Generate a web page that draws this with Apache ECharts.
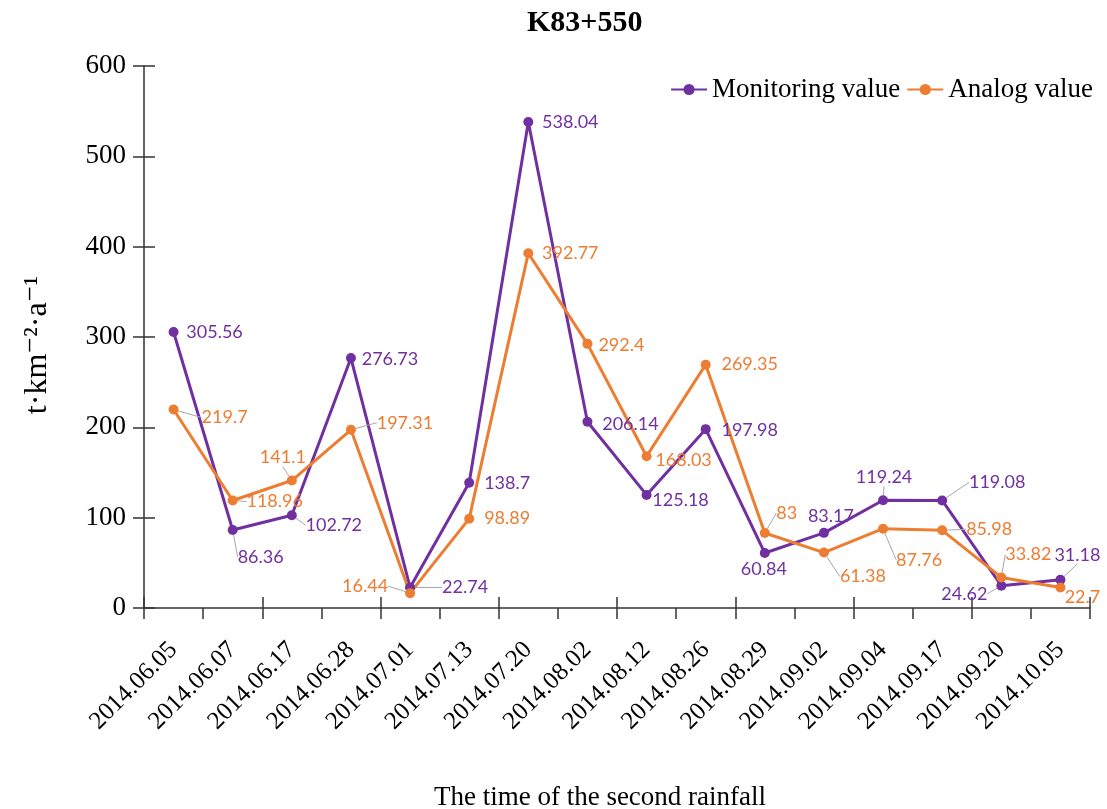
<!DOCTYPE html>
<html><head><meta charset="utf-8">
<script src="https://cdn.jsdelivr.net/npm/echarts@6/dist/echarts.min.js"></script>
<style>html,body{margin:0;padding:0;background:#fff}#c{width:1107px;height:809px}</style>
</head><body><div id="c"></div>
<script>
const categories = ['2014.06.05','2014.06.07','2014.06.17','2014.06.28','2014.07.01','2014.07.13','2014.07.20','2014.08.02','2014.08.12','2014.08.26','2014.08.29','2014.09.02','2014.09.04','2014.09.17','2014.09.20','2014.10.05'];
const monitoring = [305.56, 86.36, 102.72, 276.73, 22.74, 138.7, 538.04, 206.14, 125.18, 197.98, 60.84, 83.17, 119.24, 119.08, 24.62, 31.18];
const analog = [219.7, 118.96, 141.1, 197.31, 16.44, 98.89, 392.77, 292.4, 168.03, 269.35, 83, 61.38, 87.76, 85.98, 33.82, 22.7];
const yTicks = [0, 100, 200, 300, 400, 500, 600];

// label placement (offset of label centre from its point) and leader-line flags
const monOffsets = [[41,0],[28,27],[42,10],[39,1],[55,0],[38,0],[42,0],[43,2],[34,5],[44,1],[-1,16],[7,-17],[1,-23],[55,-18],[-37,8],[17,-25]];
const monLeader  = [0,1,1,0,1,0,0,0,0,0,0,0,1,1,1,1];
const anaOffsets = [[51,8],[42,1],[-9,-23],[54,-7],[-45,-7],[38,0],[42,0],[34,1],[37,4],[44,0],[22,-20],[39,24],[36,31],[47,-1],[27,-23],[22,10]];
const anaLeader  = [1,1,1,1,1,0,0,0,0,0,1,1,1,1,1,0];

const PURPLE = '#7030A0', ORANGE = '#ED7D31';
const SERIF = '"Liberation Serif","DejaVu Serif",serif';

function mkSeries(name, vals, color, offs, leader) {
  return {
    name, type: 'line', data: vals.map((v, i) => ({
      value: v,
      labelLine: { show: !!leader[i] }
    })),
    symbol: 'circle', symbolSize: 10,
    lineStyle: { color, width: 3 },
    itemStyle: { color },
    label: { show: true, position: 'inside', color, fontFamily: 'Lato', fontSize: 18 },
    labelLine: { show: false, lineStyle: { color: '#A6A6A6', width: 1 } },
    labelLayout: (p) => ({ dx: offs[p.dataIndex][0], dy: offs[p.dataIndex][1] }),
    z: 3
  };
}

const chart = echarts.init(document.getElementById('c'));
chart.setOption({
  animation: false,
  title: { text: 'K83+550', left: 522, top: 3, textStyle: { fontFamily: SERIF, fontWeight: 'bold', fontSize: 30, color: '#000' } },
  legend: {
    top: 71, right: 9, itemWidth: 36, itemHeight: 14, itemGap: 6,
    textStyle: { fontFamily: SERIF, fontSize: 27, color: '#000' },
    data: ['Monitoring value', 'Analog value']
  },
  grid: { left: 144, right: 17, top: 66, bottom: 201, containLabel: false, outerBoundsMode: 'none' },
  xAxis: [{
    type: 'category', data: categories, boundaryGap: true,
    axisLine: { lineStyle: { color: '#333', width: 1.5 } },
    axisTick: { show: true, length: 11, lineStyle: { color: '#333', width: 1.5 } },
    axisLabel: { rotate: 45, margin: 38, fontFamily: SERIF, fontSize: 25, color: '#000', interval: 0 },
    name: 'The time of the second rainfall', nameLocation: 'middle', nameGap: 176,
    nameTextStyle: { fontFamily: SERIF, fontSize: 27, color: '#000', padding: [0, 34, 0, 0] }
  }, {
    type: 'category', data: categories, boundaryGap: true, position: 'bottom',
    axisLine: { show: false },
    axisTick: { show: true, inside: true, length: 11, lineStyle: { color: '#333', width: 1.5 } },
    axisLabel: { show: false }
  }],
  yAxis: [{
    type: 'value', min: 0, max: 600, interval: 100,
    axisLine: { show: true, lineStyle: { color: '#333', width: 1.5 } },
    axisTick: { show: true, length: 11, lineStyle: { color: '#333', width: 1.5 } },
    splitLine: { show: false },
    axisLabel: { margin: 18, fontFamily: SERIF, fontSize: 27, color: '#000',
      formatter: (v) => yTicks.includes(v) ? String(v) : '' },
    name: 't·km⁻²·a⁻¹', nameLocation: 'middle', nameGap: 90, nameRotate: 90,
    nameTextStyle: { fontFamily: SERIF, fontSize: 32, color: '#000', padding: [0, 16, 0, 0] }
  }, {
    type: 'value', min: 0, max: 600, interval: 100, position: 'left',
    axisLine: { show: false },
    axisTick: { show: true, inside: true, length: 11, lineStyle: { color: '#333', width: 1.5 } },
    splitLine: { show: false }, axisLabel: { show: false }
  }],
  series: [
    mkSeries('Monitoring value', monitoring, PURPLE, monOffsets, monLeader),
    mkSeries('Analog value', analog, ORANGE, anaOffsets, anaLeader)
  ]
});
</script></body></html>
